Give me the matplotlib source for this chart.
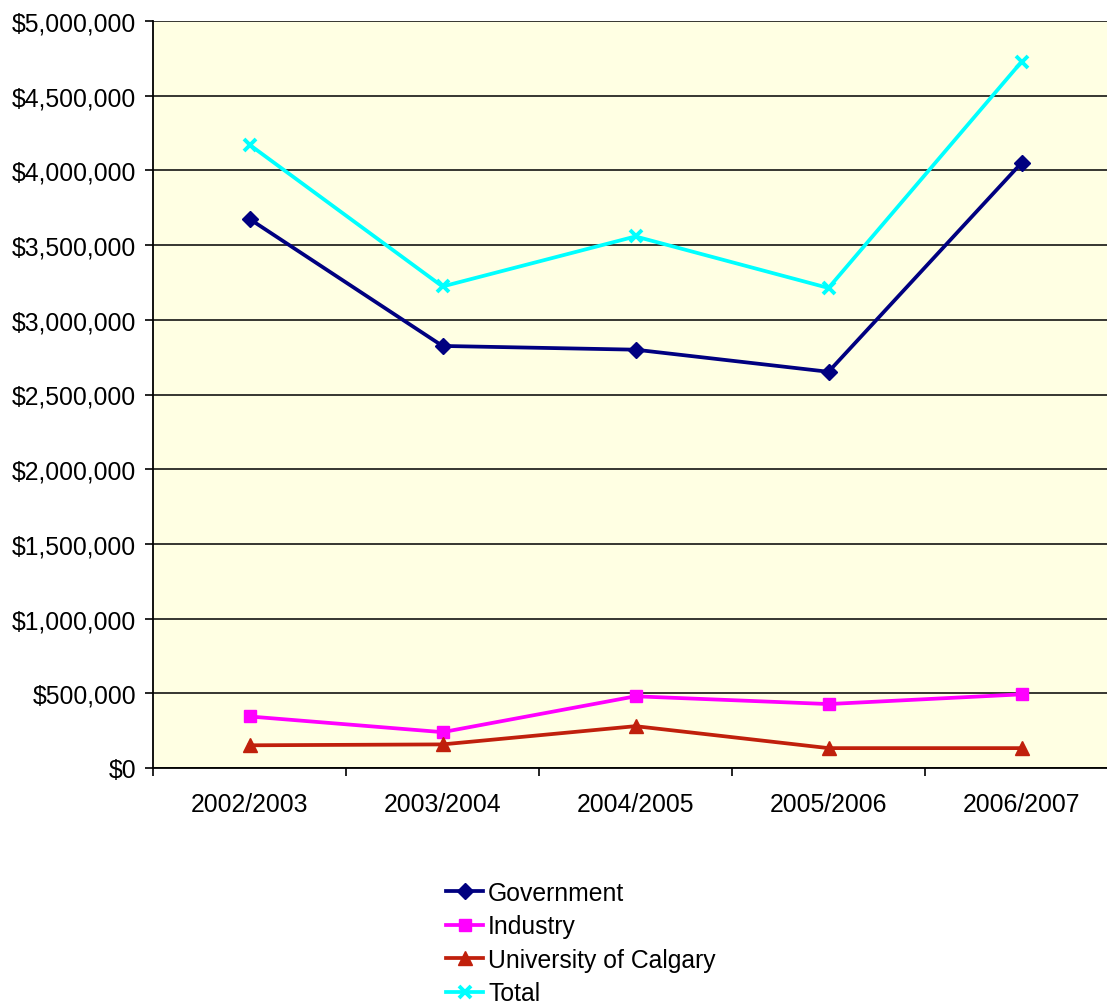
import numpy as np
import matplotlib.pyplot as plt
from matplotlib.ticker import FuncFormatter, FixedLocator

# funding by source, per fiscal year
years = ['2002/2003', '2003/2004', '2004/2005', '2005/2006', '2006/2007']
government = [3675000, 2825000, 2800000, 2652000, 4050000]
industry = [345000, 240000, 480000, 428000, 493000]
ucalgary = [152000, 158000, 280000, 133000, 133000]
total = [4172000, 3223000, 3558000, 3213000, 4727000]

plt.rcParams['font.family'] = ['Liberation Sans', 'DejaVu Sans']
fs = 17.8

fig = plt.figure(figsize=(11.07, 10.03), dpi=100)
ax = fig.add_axes([153/1107, 1 - 769/1003, 965/1107, 747/1003])
ax.set_facecolor('#FFFFE3')

x = np.arange(len(years))
ax.plot(x, government, color='#000080', lw=2.7, marker='D', ms=8, label='Government')
ax.plot(x, industry, color='#FF00FF', lw=2.7, marker='s', ms=9, label='Industry')
ax.plot(x, ucalgary, color='#C0200C', lw=2.7, marker='^', ms=10, label='University of Calgary')
ax.plot(x, total, color='#00FFFF', lw=2.7, marker='x', ms=8, mew=2.8, label='Total')

ax.set_xlim(-0.5, len(years) - 0.5)
ax.set_ylim(0, 5000000)
ax.set_yticks(np.arange(0, 5000001, 500000))
ax.yaxis.set_major_formatter(FuncFormatter(lambda v, p: '${:,.0f}'.format(v)))
ax.grid(axis='y', color='black', lw=1.1)
ax.set_axisbelow(True)

# category ticks between groups, labels centred
ax.xaxis.set_major_locator(FixedLocator(np.arange(-0.5, len(years), 1.0)))
ax.xaxis.set_major_formatter(FuncFormatter(lambda v, p: ''))
ax.set_xticks(x, minor=True)
ax.set_xticklabels(years, minor=True)
ax.tick_params(axis='x', which='minor', length=0, pad=17, labelsize=fs)
ax.tick_params(axis='x', which='major', length=6, width=1.2, direction='out')
ax.tick_params(axis='y', length=6, width=1.2, direction='out', labelsize=fs, pad=6)

for s in ['top', 'right']:
    ax.spines[s].set_visible(False)
for s in ['left', 'bottom']:
    ax.spines[s].set_linewidth(1.3)

fig.legend(loc='upper left', bbox_to_anchor=(446/1107, 1 - 882/1003), frameon=False,
           fontsize=fs, handlelength=1.5, handletextpad=0.2, labelspacing=0.38,
           borderaxespad=0, borderpad=0)

fig.savefig('out.png', dpi=100)
